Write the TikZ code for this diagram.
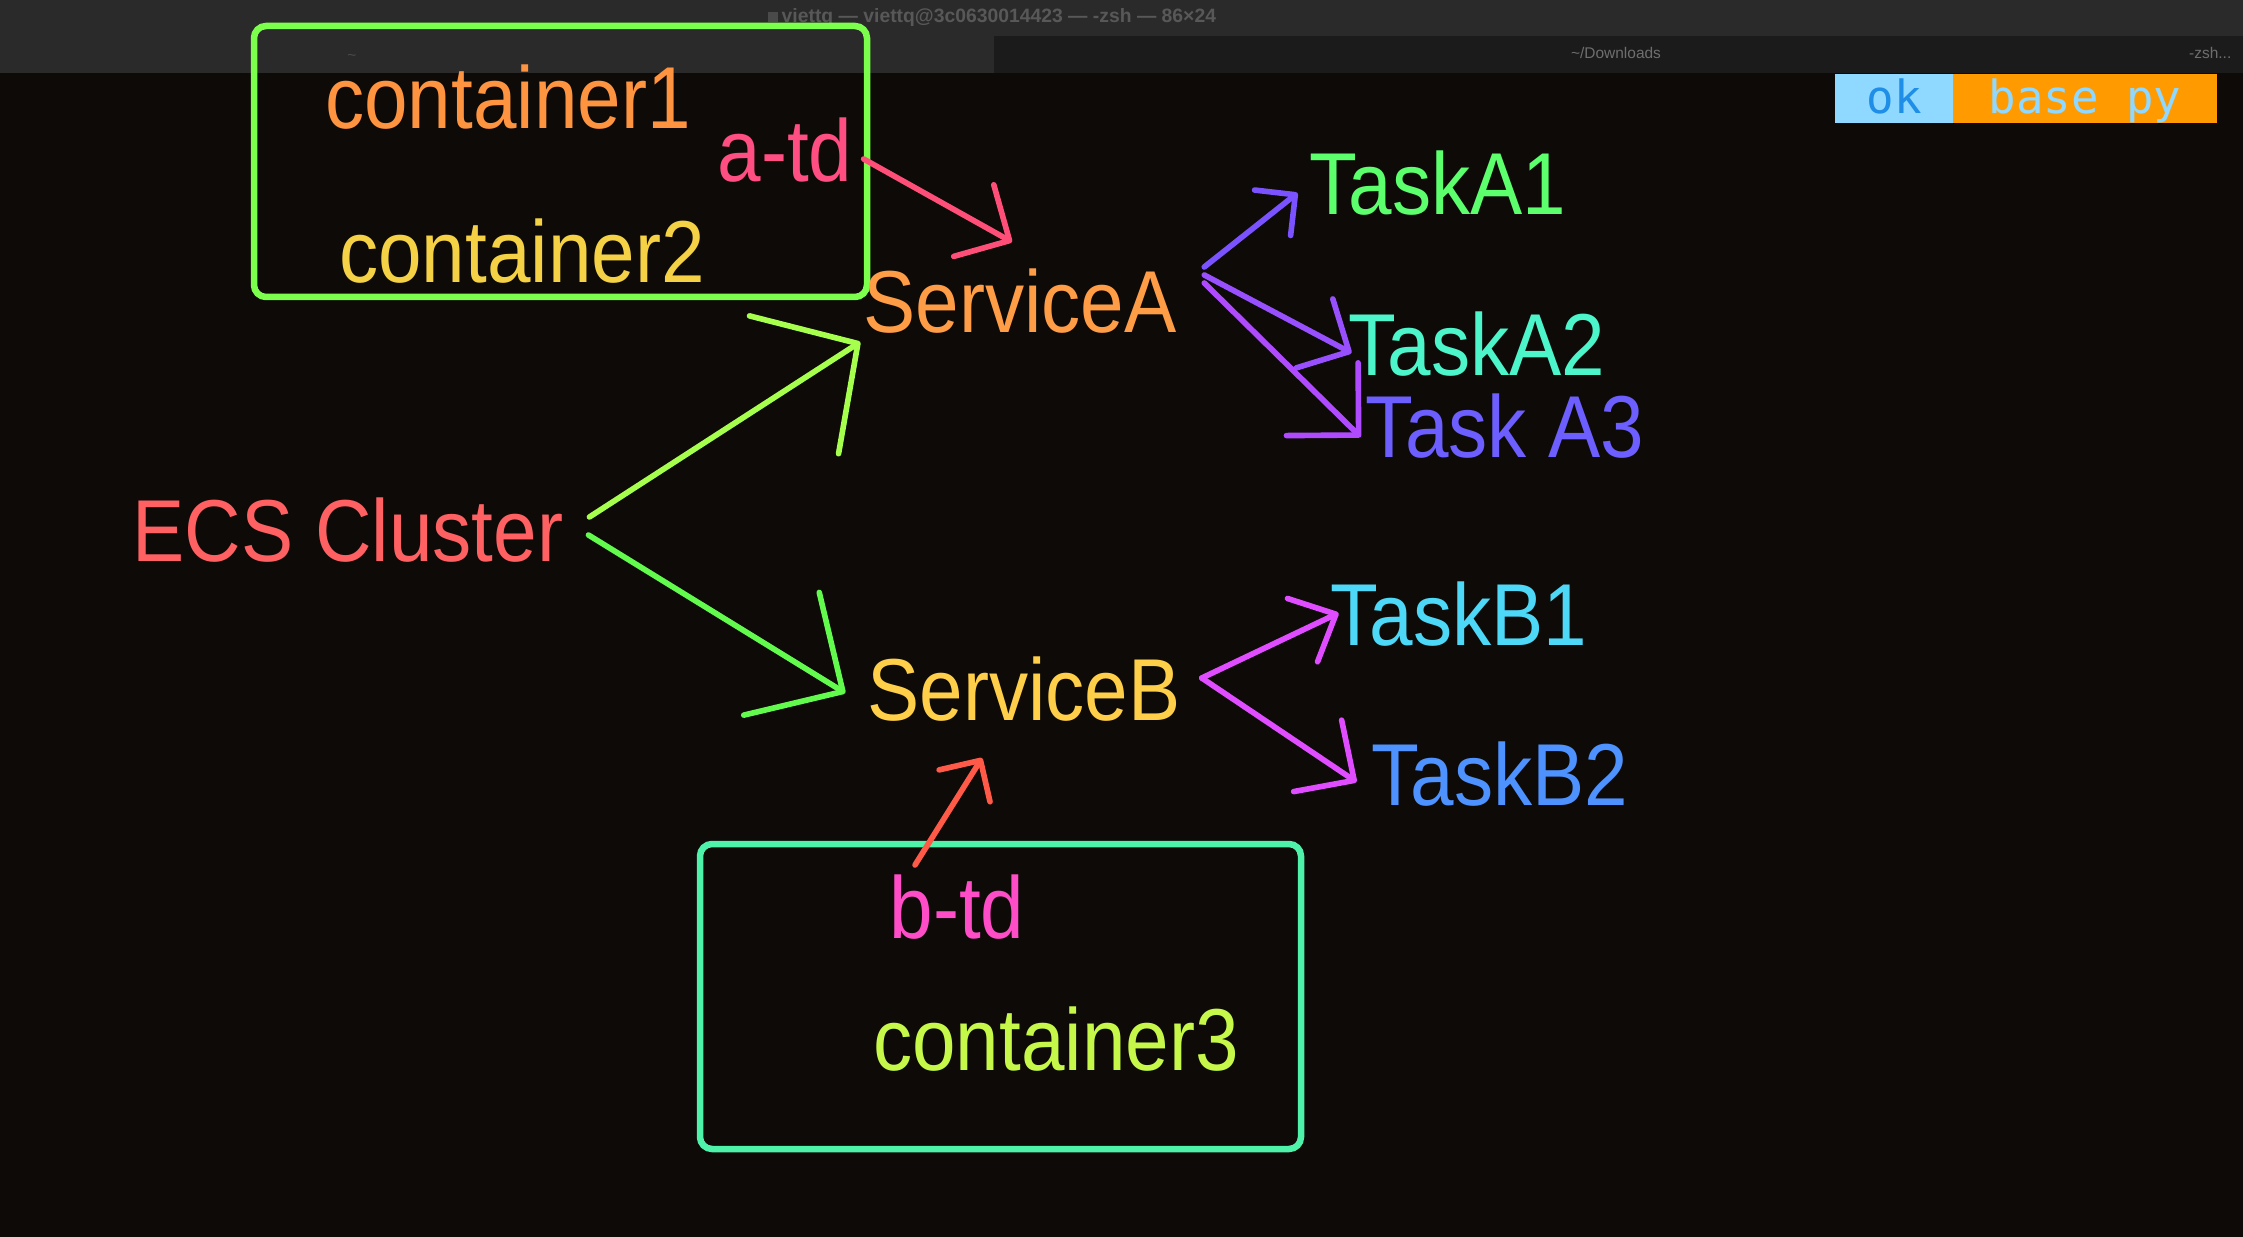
\documentclass[tikz,border=0pt]{standalone}
\usepackage{fontspec}
\setmainfont{Liberation Sans}
\newfontfamily\lbfont[FakeStretch=0.89]{Liberation Sans}
\newfontfamily\termfont{DejaVu Sans Mono}
\usetikzlibrary{arrows.meta,fit}

\definecolor{bg}{HTML}{0D0A08}
\definecolor{bar}{HTML}{2A2A2A}
\definecolor{tabDark}{HTML}{1B1B1B}
\definecolor{barText}{HTML}{585858}
\definecolor{tabText}{HTML}{6E6E6E}
\definecolor{barIcon}{HTML}{4A4A4A}
\definecolor{okFill}{HTML}{8FD8FF}
\definecolor{okText}{HTML}{1E8EE6}
\definecolor{pyFill}{HTML}{FF9A00}
\definecolor{pyText}{HTML}{8FD8FF}
\definecolor{cBoxA}{HTML}{7CFF4C}
\definecolor{cBoxB}{HTML}{4EF2A8}
\definecolor{cConA}{HTML}{FF9440}
\definecolor{cConB}{HTML}{F5D245}
\definecolor{cConC}{HTML}{C6F84A}
\definecolor{cAtd}{HTML}{FF4E82}
\definecolor{cBtd}{HTML}{FF4DC8}
\definecolor{cEcs}{HTML}{FF6163}
\definecolor{cSvcA}{HTML}{FF9D47}
\definecolor{cSvcB}{HTML}{FFCF4A}
\definecolor{cTaskA1}{HTML}{5CFF6C}
\definecolor{cTaskA2}{HTML}{4DF6CA}
\definecolor{cTaskA3}{HTML}{6C5EFF}
\definecolor{cTaskB1}{HTML}{4DD8F8}
\definecolor{cTaskB2}{HTML}{4D92FF}
\definecolor{cArAtd}{HTML}{FF4F78}
\definecolor{cArSvcA}{HTML}{A6FF4C}
\definecolor{cArSvcB}{HTML}{62FA4C}
\definecolor{cArA1}{HTML}{7A52FF}
\definecolor{cArA2}{HTML}{9850FF}
\definecolor{cArA3}{HTML}{B04AFF}
\definecolor{cArB}{HTML}{E04CFF}
\definecolor{cArBtd}{HTML}{FF5A48}

\tikzset{
	lbl/.style={font=\lbfont\fontsize{25}{30}\selectfont, inner sep=0pt, anchor=base},
	con/.style={line width=1.6pt, line cap=round, line join=round},
	vhead/.style 2 args={-{Straight Barb[length=#1, width=#2, round]}},
	tdbox/.style={draw, line width=1.85pt, rounded corners=1.2mm, inner sep=0pt},
	badge/.style={font=\termfont\fontsize{13}{15}\selectfont, inner sep=0pt,
		minimum height=4.9mm, text height=3mm, text depth=0pt},
	bartxt/.style={inner sep=0pt, anchor=base, text=tabText, font=\fontsize{4.4}{5}\selectfont}
}

\begin{document}
\begin{tikzpicture}[x=0.01cm, y=-0.01cm]
	\useasboundingbox (0,0) rectangle (2243,1237);
	\fill[bg] (0,0) rectangle (2243,1237);
	\fill[bar] (0,0) rectangle (2243,73);
	\fill[tabDark] (994,36) rectangle (2243,73);

	\fill[barIcon] (768,12) rectangle (778,22);
	\node[inner sep=0pt, anchor=base west, text=barText, font=\bfseries\fontsize{5.5}{6}\selectfont]
		(title) at (781,23) {viettq — viettq@3c0630014423 — -zsh — 86×24};
	\node[bartxt, text=barIcon] (tabL) at (352,61) {\textasciitilde};
	\node[bartxt] (tabR) at (1616,59) {\textasciitilde/Downloads};
	\node[bartxt, anchor=base east] (tabZsh) at (2232,59) {-zsh...};

	\node[badge, fill=okFill, text=okText, minimum width=11.8mm] (ok) at (1894,98.5) {ok};
	\node[badge, fill=pyFill, text=pyText, minimum width=26.4mm] (basepy) at (2085,98.5) {base py};

	\node[tdbox, draw=cBoxA, fit={(254,26) (867,297)}] (tdA) {};
	\node[tdbox, draw=cBoxB, fit={(700,844) (1301,1149)}] (tdB) {};

	\foreach \nm/\px/\py/\col/\txt in {
			c1/508/129/cConA/container1,
			c2/522/283/cConB/container2,
			atd/785/182/cAtd/a-td,
			ecs/348/561/cEcs/ECS Cluster,
			svcA/1020/333/cSvcA/ServiceA,
			svcB/1024/720/cSvcB/ServiceB,
			tA1/1438/215/cTaskA1/TaskA1,
			tA2/1477/376/cTaskA2/TaskA2,
			tA3/1505/458/cTaskA3/Task A3,
			tB1/1459/645/cTaskB1/TaskB1,
			tB2/1500/805/cTaskB2/TaskB2,
			btd/957/938/cBtd/b-td,
			c3/1056/1070/cConC/container3} {
		\node[lbl, text=\col] (\nm) at (\px,\py) {\txt};
	}

	\draw[con, cArAtd, vhead={4.1mm}{8.2mm}] ([shift={(10.5,-23)}]atd.base east) -- ([shift={(-8,-91)}]svcA.base);
	\draw[con, cArSvcA, vhead={7.6mm}{16.4mm}] ([shift={(25.5,-44)}]ecs.base east) -- ([shift={(-2.5,9)}]svcA.base west);
	\draw[con, cArSvcB, vhead={7.2mm}{14.4mm}] ([shift={(24.5,-26)}]ecs.base east) -- ([shift={(-21.5,-27)}]svcB.base west);

	\foreach \tsk/\sy/\tx/\ty/\col/\len/\wid in {
			tA1/-66/-11.5/-22/cArA1/2.9mm/5.8mm,
			tA2/-58/3.5/-23/cArA2/3.9mm/7.8mm,
			tA3/-50/-4.5/-21/cArA3/5.1mm/10.2mm} {
		\draw[con, \col, vhead={\len}{\wid}] ([shift={(27,\sy)}]svcA.base east) -- ([shift={(\tx,\ty)}]\tsk.base west);
	}

	\foreach \tsk/\tx/\ty/\len/\wid in {
			tB1/8.5/-32/3.7mm/7mm,
			tB2/-14.5/-23/4.4mm/8.6mm} {
		\draw[con, cArB, vhead={\len}{\wid}] ([shift={(20.5,-42)}]svcB.base east) -- ([shift={(\tx,\ty)}]\tsk.base west);
	}

	\draw[con, cArBtd, vhead={3mm}{6mm}] ([shift={(-42,-73)}]btd.base) -- ([shift={(-42,38)}]svcB.base);
\end{tikzpicture}
\end{document}
